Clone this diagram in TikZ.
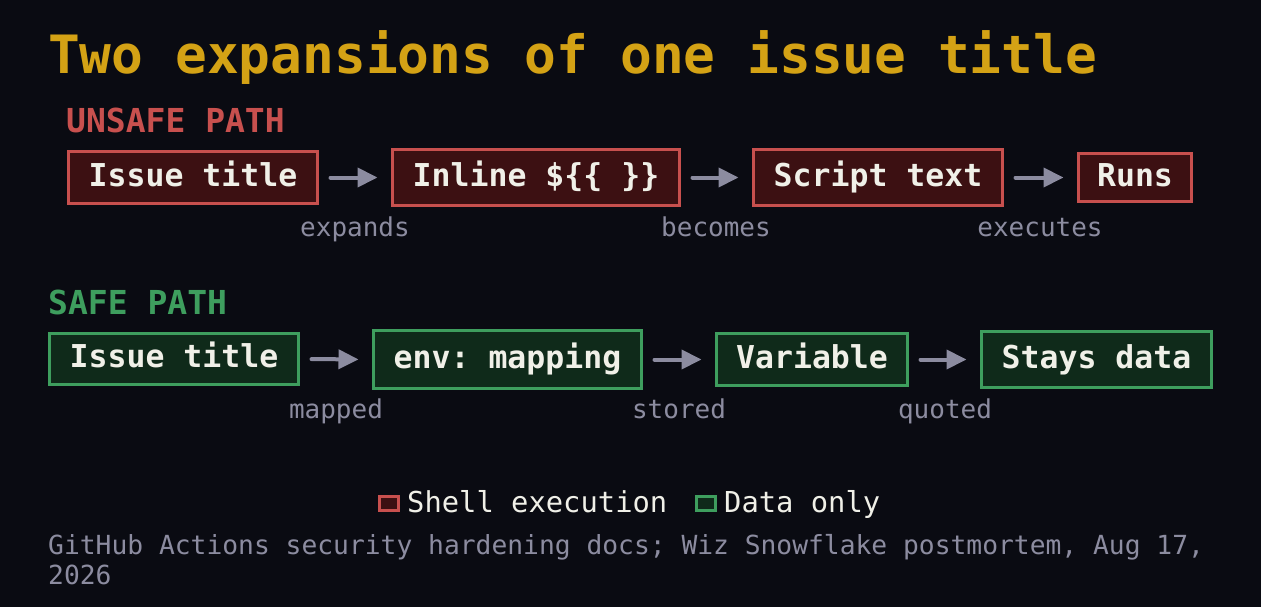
\documentclass[tikz,border=0pt]{standalone}
\usepackage{fontspec}
\setmonofont{DejaVu Sans Mono}
\setmainfont{DejaVu Sans Mono}
\usetikzlibrary{arrows.meta}
\frenchspacing
\definecolor{bg}{HTML}{0A0B12}
\definecolor{titleyel}{HTML}{D4A215}
\definecolor{redstroke}{HTML}{C8504E}
\definecolor{redfill}{HTML}{3C1012}
\definecolor{grnstroke}{HTML}{3E9E5E}
\definecolor{grnfill}{HTML}{0F2A1A}
\definecolor{muted}{HTML}{8C8CA0}
\definecolor{txt}{HTML}{F0F0E8}
\tikzset{
  boxbase/.style={inner sep=0pt, outer sep=0pt, line width=3pt, text=txt,
    font=\fontsize{31.5}{36}\selectfont\bfseries, anchor=center,
    text height=23pt, text depth=6pt},
  redbox/.style={boxbase, draw=redstroke, fill=redfill},
  grnbox/.style={boxbase, draw=grnstroke, fill=grnfill},
  flow/.style={draw=muted, line width=4pt, line cap=round,
    -{Triangle[length=20pt,width=19pt]},
    shorten <=13pt, shorten >=15pt},
  edgelbl/.style={text=muted, font=\fontsize{26}{30}\selectfont, anchor=base, inner sep=0pt},
  heading/.style={font=\fontsize{33}{38}\selectfont\bfseries, anchor=base west, inner sep=0pt},
  legsq/.style={line width=3pt, inner sep=0pt, outer sep=0pt, minimum width=19pt, minimum height=14pt, anchor=center},
  legtxt/.style={text=txt, font=\fontsize{28.8}{32}\selectfont, anchor=base west, inner sep=0pt},
}
\begin{document}
\begin{tikzpicture}[x=1pt,y=-1pt]
\fill[bg] (0,0) rectangle (1261,607);
\useasboundingbox (0,0) rectangle (1261,607);

\node[anchor=base west, inner sep=0pt, text=titleyel, font=\fontsize{52.8}{60}\selectfont\bfseries] (title) at (48,74) {Two expansions of one issue title};

% unsafe
\node[heading, text=redstroke] (uhead) at (66,132) {UNSAFE PATH};
\node[redbox, minimum width=249pt, minimum height=52pt] (u1) at (193,177.5) {Issue title};
\node[redbox, minimum width=287pt, minimum height=56pt] (u2) at (536,177.5) {Inline \$\{\{ \}\}};
\node[redbox, minimum width=249pt, minimum height=56pt] (u3) at (878,177.5) {Script text};
\node[redbox, minimum width=113pt, minimum height=48pt] (u4) at (1135,177.5) {Runs};
\draw[flow] (u1.east) -- (u2.west);
\draw[flow] (u2.east) -- (u3.west);
\draw[flow] (u3.east) -- (u4.west);
\node[edgelbl] (l1) at (355,236) {expands};
\node[edgelbl] (l2) at (716,236) {becomes};
\node[edgelbl] (l3) at (1040,236) {executes};

% safe
\node[heading, text=grnstroke] (shead) at (48,314) {SAFE PATH};
\node[grnbox, minimum width=249pt, minimum height=51pt] (s1) at (174,359) {Issue title};
\node[grnbox, minimum width=268pt, minimum height=58pt] (s2) at (507.5,359.5) {env: mapping};
\node[grnbox, minimum width=191pt, minimum height=52pt] (s3) at (812,359.5) {Variable};
\node[grnbox, minimum width=230pt, minimum height=56pt] (s4) at (1096.5,359.5) {Stays data};
\draw[flow] (s1.east) -- (s2.west);
\draw[flow] (s2.east) -- (s3.west);
\draw[flow] (s3.east) -- (s4.west);
\node[edgelbl] (m1) at (336,418) {mapped};
\node[edgelbl] (m2) at (679,418) {stored};
\node[edgelbl] (m3) at (945,418) {quoted};

% legend
\node[legsq, draw=redstroke, fill=redfill] (lgr) at (389,503) {};
\node[legtxt] (lgrt) at (407,512) {Shell execution};
\node[legsq, draw=grnstroke, fill=grnfill] (lgg) at (706,503) {};
\node[legtxt] (lggt) at (724,512) {Data only};

% footer
\node[anchor=base west, inner sep=0pt, text=muted, font=\fontsize{26.3}{30}\selectfont] (foot1) at (48,554) {GitHub Actions security hardening docs; Wiz Snowflake postmortem, Aug 17,};
\node[anchor=base west, inner sep=0pt, text=muted, font=\fontsize{26.3}{30}\selectfont] (foot2) at (48,584) {2026};
\end{tikzpicture}
\end{document}
